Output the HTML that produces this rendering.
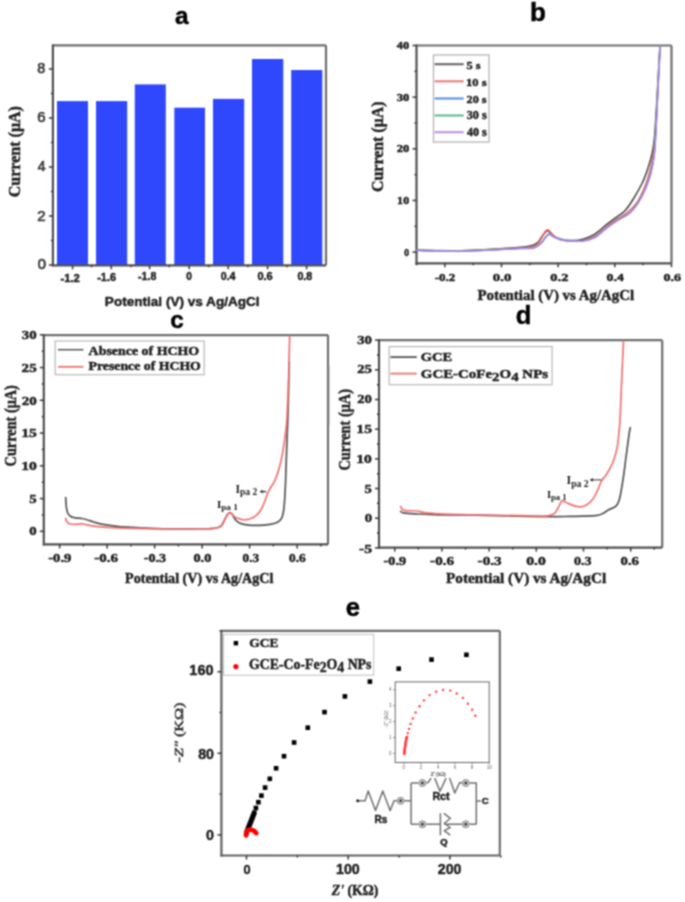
<!DOCTYPE html><html><head><meta charset="utf-8"><style>html,body{margin:0;padding:0;background:#fff;}svg{display:block;}</style></head><body>
<svg width="685" height="902" viewBox="0 0 685 902">
<defs><filter id="bf" x="-5" y="-5" width="695" height="912" filterUnits="userSpaceOnUse" color-interpolation-filters="sRGB"><feConvolveMatrix order="3" kernelMatrix="1 2 1 2 4 2 1 2 1" divisor="16" edgeMode="duplicate"/></filter></defs>
<rect width="685" height="902" fill="#fff"/>
<g filter="url(#bf)">
<text class="tx" id="ta" x="181.69" y="24.19" font-family='"Liberation Sans", sans-serif' font-size="24.44" font-weight="bold" text-anchor="middle" fill="#000" stroke="#000" stroke-width="0.45" >a</text>
<rect x="57.0" y="101.1" width="31.0" height="163.9" fill="#3048fd"/>
<rect x="96.0" y="101.1" width="31.2" height="163.9" fill="#3048fd"/>
<rect x="134.8" y="84.4" width="31.0" height="180.6" fill="#3048fd"/>
<rect x="174.3" y="107.7" width="30.7" height="157.3" fill="#3048fd"/>
<rect x="213.0" y="98.9" width="31.2" height="166.1" fill="#3048fd"/>
<rect x="252.0" y="59.0" width="31.3" height="206.0" fill="#3048fd"/>
<rect x="291.2" y="70.0" width="31.1" height="195.0" fill="#3048fd"/>
<line x1="52.90" y1="45.30" x2="326.00" y2="45.30" stroke="#6e6e6e" stroke-width="2.2"/>
<line x1="326.00" y1="45.30" x2="326.00" y2="265.30" stroke="#6e6e6e" stroke-width="2.2"/>
<line x1="52.90" y1="44.30" x2="52.90" y2="266.30" stroke="#505050" stroke-width="2.2"/>
<line x1="51.90" y1="265.30" x2="326.00" y2="265.30" stroke="#505050" stroke-width="2.2"/>
<line x1="48.90" y1="265.00" x2="52.90" y2="265.00" stroke="#3a3a3a" stroke-width="1.5"/>
<line x1="50.90" y1="240.50" x2="52.90" y2="240.50" stroke="#3a3a3a" stroke-width="1.5"/>
<line x1="48.90" y1="216.00" x2="52.90" y2="216.00" stroke="#3a3a3a" stroke-width="1.5"/>
<line x1="50.90" y1="191.50" x2="52.90" y2="191.50" stroke="#3a3a3a" stroke-width="1.5"/>
<line x1="48.90" y1="167.00" x2="52.90" y2="167.00" stroke="#3a3a3a" stroke-width="1.5"/>
<line x1="50.90" y1="142.50" x2="52.90" y2="142.50" stroke="#3a3a3a" stroke-width="1.5"/>
<line x1="48.90" y1="118.00" x2="52.90" y2="118.00" stroke="#3a3a3a" stroke-width="1.5"/>
<line x1="50.90" y1="93.50" x2="52.90" y2="93.50" stroke="#3a3a3a" stroke-width="1.5"/>
<line x1="48.90" y1="69.00" x2="52.90" y2="69.00" stroke="#3a3a3a" stroke-width="1.5"/>
<line x1="72.60" y1="265.30" x2="72.60" y2="269.30" stroke="#3a3a3a" stroke-width="1.5"/>
<line x1="91.60" y1="265.30" x2="91.60" y2="267.30" stroke="#3a3a3a" stroke-width="1.5"/>
<line x1="111.30" y1="265.30" x2="111.30" y2="269.30" stroke="#3a3a3a" stroke-width="1.5"/>
<line x1="131.00" y1="265.30" x2="131.00" y2="267.30" stroke="#3a3a3a" stroke-width="1.5"/>
<line x1="149.60" y1="265.30" x2="149.60" y2="269.30" stroke="#3a3a3a" stroke-width="1.5"/>
<line x1="169.30" y1="265.30" x2="169.30" y2="267.30" stroke="#3a3a3a" stroke-width="1.5"/>
<line x1="189.20" y1="265.30" x2="189.20" y2="269.30" stroke="#3a3a3a" stroke-width="1.5"/>
<line x1="208.60" y1="265.30" x2="208.60" y2="267.30" stroke="#3a3a3a" stroke-width="1.5"/>
<line x1="228.20" y1="265.30" x2="228.20" y2="269.30" stroke="#3a3a3a" stroke-width="1.5"/>
<line x1="247.80" y1="265.30" x2="247.80" y2="267.30" stroke="#3a3a3a" stroke-width="1.5"/>
<line x1="267.60" y1="265.30" x2="267.60" y2="269.30" stroke="#3a3a3a" stroke-width="1.5"/>
<line x1="287.00" y1="265.30" x2="287.00" y2="267.30" stroke="#3a3a3a" stroke-width="1.5"/>
<line x1="306.60" y1="265.30" x2="306.60" y2="269.30" stroke="#3a3a3a" stroke-width="1.5"/>
<text class="tx" id="ay8" x="45.35" y="73.26" font-family='"Liberation Sans", sans-serif' font-size="14.08" font-weight="normal" text-anchor="end" fill="#3c3c3c" stroke="#3c3c3c" stroke-width="0.7" textLength="7.96" lengthAdjust="spacingAndGlyphs" >8</text>
<text class="tx" id="ay6" x="45.70" y="122.24" font-family='"Liberation Sans", sans-serif' font-size="14.08" font-weight="normal" text-anchor="end" fill="#3c3c3c" stroke="#3c3c3c" stroke-width="0.7" textLength="8.35" lengthAdjust="spacingAndGlyphs" >6</text>
<text class="tx" id="ay4" x="45.51" y="171.36" font-family='"Liberation Sans", sans-serif' font-size="14.21" font-weight="normal" text-anchor="end" fill="#3c3c3c" stroke="#3c3c3c" stroke-width="0.7" textLength="7.84" lengthAdjust="spacingAndGlyphs" >4</text>
<text class="tx" id="ay2" x="45.71" y="220.84" font-family='"Liberation Sans", sans-serif' font-size="14.73" font-weight="normal" text-anchor="end" fill="#3c3c3c" stroke="#3c3c3c" stroke-width="0.7" textLength="8.32" lengthAdjust="spacingAndGlyphs" >2</text>
<text class="tx" id="ay0" x="46.04" y="269.24" font-family='"Liberation Sans", sans-serif' font-size="14.08" font-weight="normal" text-anchor="end" fill="#3c3c3c" stroke="#3c3c3c" stroke-width="0.7" textLength="8.29" lengthAdjust="spacingAndGlyphs" >0</text>
<text class="tx" id="ax0" x="70.15" y="281.90" font-family='"Liberation Sans", sans-serif' font-size="11.27" font-weight="bold" text-anchor="middle" fill="#222" stroke="#222" stroke-width="0.45" >-1.2</text>
<text class="tx" id="ax1" x="106.61" y="281.32" font-family='"Liberation Sans", sans-serif' font-size="10.98" font-weight="bold" text-anchor="middle" fill="#222" stroke="#222" stroke-width="0.45" >-1.6</text>
<text class="tx" id="ax2" x="147.18" y="280.08" font-family='"Liberation Sans", sans-serif' font-size="10.63" font-weight="bold" text-anchor="middle" fill="#222" stroke="#222" stroke-width="0.45" >-1.8</text>
<text class="tx" id="ax3" x="188.99" y="279.91" font-family='"Liberation Sans", sans-serif' font-size="10.11" font-weight="bold" text-anchor="middle" fill="#222" stroke="#222" stroke-width="0.45" >0</text>
<text class="tx" id="ax4" x="228.03" y="279.87" font-family='"Liberation Sans", sans-serif' font-size="10.60" font-weight="bold" text-anchor="middle" fill="#222" stroke="#222" stroke-width="0.45" >0.4</text>
<text class="tx" id="ax5" x="265.09" y="280.04" font-family='"Liberation Sans", sans-serif' font-size="11.01" font-weight="bold" text-anchor="middle" fill="#222" stroke="#222" stroke-width="0.45" >0.6</text>
<text class="tx" id="ax6" x="304.81" y="279.86" font-family='"Liberation Sans", sans-serif' font-size="10.70" font-weight="bold" text-anchor="middle" fill="#222" stroke="#222" stroke-width="0.45" >0.8</text>
<text class="tx" id="ayt" x="0" y="0" transform="translate(20.20,151.69) rotate(-90)" font-family='"Liberation Serif", serif' font-size="17.50" font-weight="bold" text-anchor="middle" fill="#222" stroke="#222" stroke-width="0.45" textLength="91.16" lengthAdjust="spacingAndGlyphs">Current (μA)</text>
<text class="tx" id="axt" x="104.83" y="305.59" font-family='"Liberation Sans", sans-serif' font-size="13.39" font-weight="bold" text-anchor="start" fill="#222" stroke="#222" stroke-width="0.45" textLength="154.76" lengthAdjust="spacingAndGlyphs" >Potential (V) vs Ag/AgCl</text>
<text class="tx" id="tb" x="537.97" y="20.83" font-family='"Liberation Sans", sans-serif' font-size="26.04" font-weight="bold" text-anchor="middle" fill="#000" stroke="#000" stroke-width="0.45" >b</text>
<line x1="416.50" y1="45.50" x2="671.50" y2="45.50" stroke="#6e6e6e" stroke-width="2.2"/>
<line x1="671.50" y1="45.50" x2="671.50" y2="263.30" stroke="#6e6e6e" stroke-width="2.2"/>
<line x1="416.50" y1="44.50" x2="416.50" y2="264.30" stroke="#505050" stroke-width="2.2"/>
<line x1="415.50" y1="263.30" x2="671.50" y2="263.30" stroke="#505050" stroke-width="2.2"/>
<line x1="412.50" y1="252.10" x2="416.50" y2="252.10" stroke="#3a3a3a" stroke-width="1.5"/>
<line x1="414.50" y1="226.28" x2="416.50" y2="226.28" stroke="#3a3a3a" stroke-width="1.5"/>
<line x1="412.50" y1="200.45" x2="416.50" y2="200.45" stroke="#3a3a3a" stroke-width="1.5"/>
<line x1="414.50" y1="174.62" x2="416.50" y2="174.62" stroke="#3a3a3a" stroke-width="1.5"/>
<line x1="412.50" y1="148.80" x2="416.50" y2="148.80" stroke="#3a3a3a" stroke-width="1.5"/>
<line x1="414.50" y1="122.97" x2="416.50" y2="122.97" stroke="#3a3a3a" stroke-width="1.5"/>
<line x1="412.50" y1="97.15" x2="416.50" y2="97.15" stroke="#3a3a3a" stroke-width="1.5"/>
<line x1="414.50" y1="71.32" x2="416.50" y2="71.32" stroke="#3a3a3a" stroke-width="1.5"/>
<line x1="412.50" y1="45.50" x2="416.50" y2="45.50" stroke="#3a3a3a" stroke-width="1.5"/>
<line x1="416.51" y1="263.30" x2="416.51" y2="265.30" stroke="#3a3a3a" stroke-width="1.5"/>
<line x1="444.84" y1="263.30" x2="444.84" y2="267.30" stroke="#3a3a3a" stroke-width="1.5"/>
<line x1="473.17" y1="263.30" x2="473.17" y2="265.30" stroke="#3a3a3a" stroke-width="1.5"/>
<line x1="501.50" y1="263.30" x2="501.50" y2="267.30" stroke="#3a3a3a" stroke-width="1.5"/>
<line x1="529.83" y1="263.30" x2="529.83" y2="265.30" stroke="#3a3a3a" stroke-width="1.5"/>
<line x1="558.16" y1="263.30" x2="558.16" y2="267.30" stroke="#3a3a3a" stroke-width="1.5"/>
<line x1="586.49" y1="263.30" x2="586.49" y2="265.30" stroke="#3a3a3a" stroke-width="1.5"/>
<line x1="614.82" y1="263.30" x2="614.82" y2="267.30" stroke="#3a3a3a" stroke-width="1.5"/>
<line x1="643.15" y1="263.30" x2="643.15" y2="265.30" stroke="#3a3a3a" stroke-width="1.5"/>
<line x1="671.48" y1="263.30" x2="671.48" y2="267.30" stroke="#3a3a3a" stroke-width="1.5"/>
<text class="tx" id="by40" x="409.19" y="49.08" font-family='"Liberation Serif", serif' font-size="11.05" font-weight="bold" text-anchor="end" fill="#222" stroke="#222" stroke-width="0.45" textLength="12.42" lengthAdjust="spacingAndGlyphs" >40</text>
<text class="tx" id="by30" x="409.24" y="101.10" font-family='"Liberation Serif", serif' font-size="9.97" font-weight="bold" text-anchor="end" fill="#222" stroke="#222" stroke-width="0.45" textLength="12.51" lengthAdjust="spacingAndGlyphs" >30</text>
<text class="tx" id="by20" x="409.24" y="151.96" font-family='"Liberation Serif", serif' font-size="10.14" font-weight="bold" text-anchor="end" fill="#222" stroke="#222" stroke-width="0.45" textLength="12.51" lengthAdjust="spacingAndGlyphs" >20</text>
<text class="tx" id="by10" x="409.14" y="203.74" font-family='"Liberation Serif", serif' font-size="9.94" font-weight="bold" text-anchor="end" fill="#222" stroke="#222" stroke-width="0.45" textLength="12.01" lengthAdjust="spacingAndGlyphs" >10</text>
<text class="tx" id="by0" x="409.10" y="255.61" font-family='"Liberation Serif", serif' font-size="10.14" font-weight="bold" text-anchor="end" fill="#222" stroke="#222" stroke-width="0.45" textLength="4.78" lengthAdjust="spacingAndGlyphs" >0</text>
<text class="tx" id="bx0" x="444.96" y="281.10" font-family='"Liberation Serif", serif' font-size="10.67" font-weight="bold" text-anchor="middle" fill="#222" stroke="#222" stroke-width="0.45" textLength="20.54" lengthAdjust="spacingAndGlyphs" >-0.2</text>
<text class="tx" id="bx1" x="502.04" y="281.10" font-family='"Liberation Serif", serif' font-size="10.67" font-weight="bold" text-anchor="middle" fill="#222" stroke="#222" stroke-width="0.45" textLength="18.54" lengthAdjust="spacingAndGlyphs" >0.0</text>
<text class="tx" id="bx2" x="559.34" y="281.10" font-family='"Liberation Serif", serif' font-size="10.67" font-weight="bold" text-anchor="middle" fill="#222" stroke="#222" stroke-width="0.45" textLength="18.05" lengthAdjust="spacingAndGlyphs" >0.2</text>
<text class="tx" id="bx3" x="615.22" y="281.10" font-family='"Liberation Serif", serif' font-size="10.67" font-weight="bold" text-anchor="middle" fill="#222" stroke="#222" stroke-width="0.45" textLength="17.27" lengthAdjust="spacingAndGlyphs" >0.4</text>
<text class="tx" id="bx4" x="672.23" y="281.10" font-family='"Liberation Serif", serif' font-size="10.67" font-weight="bold" text-anchor="middle" fill="#222" stroke="#222" stroke-width="0.45" textLength="17.59" lengthAdjust="spacingAndGlyphs" >0.6</text>
<text class="tx" id="byt" x="0" y="0" transform="translate(383.40,146.77) rotate(-90)" font-family='"Liberation Serif", serif' font-size="17.00" font-weight="bold" text-anchor="middle" fill="#222" stroke="#222" stroke-width="0.45" textLength="90.48" lengthAdjust="spacingAndGlyphs">Current (μA)</text>
<text class="tx" id="bxt" x="477.51" y="299.86" font-family='"Liberation Serif", serif' font-size="14.49" font-weight="bold" text-anchor="start" fill="#222" stroke="#222" stroke-width="0.45" textLength="156.64" lengthAdjust="spacingAndGlyphs" >Potential (V) vs Ag/AgCl</text>
<path d="M417.0,250.2 C420.8,250.3 431.2,250.7 440.0,250.8 C448.8,250.9 460.0,250.9 470.0,250.6 C480.0,250.3 491.7,249.3 500.0,248.8 C508.3,248.3 514.7,247.9 520.0,247.4 C525.3,246.9 529.0,246.4 532.0,245.6 C535.0,244.8 536.1,244.2 538.0,242.3 C539.9,240.5 541.8,236.4 543.4,234.5 C545.0,232.6 546.3,231.1 547.5,230.8 C548.7,230.5 549.2,231.8 550.5,232.8 C551.8,233.8 553.1,235.7 555.0,236.9 C556.9,238.1 559.3,239.4 562.0,240.0 C564.7,240.6 567.9,240.7 571.4,240.6 C574.9,240.5 579.1,240.3 583.0,239.2 C586.9,238.1 590.9,236.5 594.8,234.1 C598.7,231.7 602.9,227.4 606.4,224.7 C609.9,222.0 612.7,220.0 615.8,217.7 C618.9,215.4 622.1,213.7 625.0,210.7 C627.9,207.7 630.2,204.0 633.0,199.5 C635.8,195.0 639.5,188.6 642.0,183.5 C644.5,178.4 646.2,173.5 647.8,168.7 C649.4,163.9 650.7,159.9 651.8,154.7 C652.9,149.5 653.6,147.8 654.5,137.6 C655.4,127.4 656.4,108.5 657.3,93.3 C658.2,78.1 659.5,54.3 660.0,46.5" fill="none" stroke="#4a4a4a" stroke-width="1.6" stroke-linejoin="round" stroke-linecap="round" opacity="1"/>
<path d="M417.0,250.2 C420.8,250.3 431.2,250.7 440.0,250.8 C448.8,250.9 460.0,250.9 470.0,250.6 C480.0,250.3 491.7,249.6 500.0,249.2 C508.3,248.8 514.7,248.4 520.0,248.0 C525.3,247.6 529.0,247.2 532.0,246.5 C535.0,245.8 536.2,245.4 538.0,243.5 C539.8,241.6 541.6,237.2 543.0,235.0 C544.4,232.8 545.5,230.9 546.5,230.2 C547.5,229.4 548.1,229.9 549.0,230.5 C549.9,231.1 550.8,232.8 552.0,234.0 C553.2,235.2 554.2,236.4 556.0,237.5 C557.8,238.6 560.3,239.7 563.0,240.3 C565.7,240.9 568.7,241.0 572.0,241.0 C575.3,241.0 579.2,241.3 583.0,240.5 C586.8,239.7 590.9,238.4 594.8,236.2 C598.7,233.9 603.3,229.5 606.4,227.0 C609.5,224.5 610.3,223.3 613.4,221.2 C616.5,219.1 621.2,217.3 625.1,214.2 C629.0,211.1 633.4,207.5 636.8,202.6 C640.2,197.7 643.2,190.7 645.5,185.0 C647.8,179.3 649.1,174.5 650.5,168.7 C651.9,162.9 652.9,156.4 653.8,150.0 C654.7,143.6 655.2,139.5 655.8,130.0 C656.4,120.5 656.9,106.9 657.6,93.0 C658.3,79.1 659.6,54.2 660.0,46.5" fill="none" stroke="#ec6262" stroke-width="1.5" stroke-linejoin="round" stroke-linecap="round" opacity="1"/>
<path d="M417.0,250.0 C420.8,250.1 431.2,250.5 440.0,250.6 C448.8,250.7 460.0,250.7 470.0,250.5 C480.0,250.3 491.7,249.6 500.0,249.2 C508.3,248.8 514.3,248.5 520.0,248.2 C525.7,247.9 530.5,248.5 534.0,247.6 C537.5,246.7 539.0,244.8 541.0,243.0 C543.0,241.2 544.6,238.1 546.0,236.6 C547.4,235.1 548.2,234.0 549.2,233.8 C550.2,233.6 551.0,234.8 552.0,235.4 C553.0,236.0 552.5,236.4 555.0,237.2 C557.5,238.0 562.0,239.6 566.7,240.2 C571.4,240.8 578.3,241.2 583.0,240.7 C587.7,240.2 590.9,239.3 594.8,237.2 C598.7,235.1 602.5,230.8 606.4,227.9 C610.3,225.0 614.2,222.2 618.1,219.7 C622.0,217.2 626.3,215.8 629.8,212.7 C633.3,209.6 636.4,205.3 639.1,201.0 C641.8,196.7 644.2,191.7 646.1,187.0 C648.0,182.3 649.4,178.4 650.8,173.0 C652.2,167.6 653.4,161.5 654.3,154.3 C655.2,147.1 655.4,139.9 656.0,129.6 C656.6,119.3 657.1,106.5 657.8,92.6 C658.5,78.7 659.8,53.9 660.2,46.1" fill="none" stroke="#4a8ae0" stroke-width="1.5" stroke-linejoin="round" stroke-linecap="round" opacity="1"/>
<path d="M416.7,250.2 C420.5,250.3 430.9,250.7 439.7,250.8 C448.5,250.9 459.7,250.9 469.7,250.7 C479.7,250.5 491.4,249.8 499.7,249.4 C508.0,249.0 514.0,248.7 519.7,248.4 C525.4,248.1 530.2,248.7 533.7,247.8 C537.2,246.9 538.7,245.0 540.7,243.2 C542.7,241.4 544.3,238.3 545.7,236.8 C547.1,235.3 547.9,234.2 548.9,234.0 C549.9,233.8 550.7,235.0 551.7,235.6 C552.7,236.2 552.2,236.6 554.7,237.4 C557.2,238.2 561.7,239.8 566.4,240.4 C571.1,241.0 578.0,241.4 582.7,240.9 C587.4,240.4 590.6,239.5 594.5,237.4 C598.4,235.3 602.2,231.0 606.1,228.1 C610.0,225.2 613.9,222.4 617.8,219.9 C621.7,217.4 626.0,216.0 629.5,212.9 C633.0,209.8 636.1,205.5 638.8,201.2 C641.5,196.9 643.9,191.9 645.8,187.2 C647.8,182.5 649.1,178.7 650.5,173.2 C651.9,167.8 653.1,161.7 654.0,154.5 C654.9,147.3 655.1,140.1 655.7,129.8 C656.3,119.5 656.8,106.7 657.5,92.8 C658.2,78.9 659.5,54.0 659.9,46.3" fill="none" stroke="#4cb27c" stroke-width="1.5" stroke-linejoin="round" stroke-linecap="round" opacity="1"/>
<path d="M417.0,250.4 C420.8,250.5 431.2,250.9 440.0,251.0 C448.8,251.1 460.0,251.1 470.0,250.9 C480.0,250.7 491.7,250.0 500.0,249.6 C508.3,249.2 514.3,248.9 520.0,248.6 C525.7,248.3 530.5,248.9 534.0,248.0 C537.5,247.1 539.0,245.2 541.0,243.4 C543.0,241.6 544.6,238.5 546.0,237.0 C547.4,235.5 548.2,234.4 549.2,234.2 C550.2,234.0 551.0,235.2 552.0,235.8 C553.0,236.4 552.5,236.8 555.0,237.6 C557.5,238.4 562.0,240.0 566.7,240.6 C571.4,241.2 578.3,241.6 583.0,241.1 C587.7,240.6 590.9,239.7 594.8,237.6 C598.7,235.5 602.5,231.2 606.4,228.3 C610.3,225.4 614.2,222.6 618.1,220.1 C622.0,217.6 626.3,216.2 629.8,213.1 C633.3,210.0 636.4,205.7 639.1,201.4 C641.8,197.1 644.2,192.1 646.1,187.4 C648.0,182.7 649.4,178.9 650.8,173.4 C652.2,167.9 653.4,161.9 654.3,154.7 C655.2,147.5 655.4,140.3 656.0,130.0 C656.6,119.7 657.1,106.9 657.8,93.0 C658.5,79.1 659.8,54.2 660.2,46.5" fill="none" stroke="#b681e8" stroke-width="1.5" stroke-linejoin="round" stroke-linecap="round" opacity="1"/>
<rect x="433.5" y="55" width="55.5" height="87" fill="#fff" stroke="#b4b4b4" stroke-width="1.3"/>
<line x1="434.70" y1="64.20" x2="463.70" y2="64.20" stroke="#666" stroke-width="2.1"/>
<text class="tx" id="bl0" x="466.59" y="68.91" font-family='"Liberation Serif", serif' font-size="10.82" font-weight="bold" text-anchor="start" fill="#222" stroke="#222" stroke-width="0.45" textLength="14.10" lengthAdjust="spacingAndGlyphs" >5 s</text>
<line x1="434.70" y1="81.30" x2="463.70" y2="81.30" stroke="#ec7a7a" stroke-width="2.1"/>
<text class="tx" id="bl1" x="466.10" y="85.60" font-family='"Liberation Serif", serif' font-size="10.93" font-weight="bold" text-anchor="start" fill="#222" stroke="#222" stroke-width="0.45" textLength="20.49" lengthAdjust="spacingAndGlyphs" >10 s</text>
<line x1="434.70" y1="98.50" x2="463.70" y2="98.50" stroke="#5a90e2" stroke-width="2.1"/>
<text class="tx" id="bl2" x="466.59" y="102.51" font-family='"Liberation Serif", serif' font-size="10.88" font-weight="bold" text-anchor="start" fill="#222" stroke="#222" stroke-width="0.45" textLength="19.99" lengthAdjust="spacingAndGlyphs" >20 s</text>
<line x1="434.70" y1="115.50" x2="463.70" y2="115.50" stroke="#5cbc88" stroke-width="2.1"/>
<text class="tx" id="bl3" x="466.67" y="119.35" font-family='"Liberation Serif", serif' font-size="11.68" font-weight="bold" text-anchor="start" fill="#222" stroke="#222" stroke-width="0.45" textLength="19.99" lengthAdjust="spacingAndGlyphs" >30 s</text>
<line x1="434.70" y1="132.20" x2="463.70" y2="132.20" stroke="#c08ee8" stroke-width="2.1"/>
<text class="tx" id="bl4" x="467.00" y="136.37" font-family='"Liberation Serif", serif' font-size="11.50" font-weight="bold" text-anchor="start" fill="#222" stroke="#222" stroke-width="0.45" textLength="19.68" lengthAdjust="spacingAndGlyphs" >40 s</text>
<text class="tx" id="tc" x="177.00" y="327.60" font-family='"Liberation Sans", sans-serif' font-size="24.38" font-weight="bold" text-anchor="middle" fill="#000" stroke="#000" stroke-width="0.45" >c</text>
<line x1="43.80" y1="335.10" x2="328.00" y2="335.10" stroke="#6e6e6e" stroke-width="2.2"/>
<line x1="328.00" y1="335.10" x2="328.00" y2="544.40" stroke="#6e6e6e" stroke-width="2.2"/>
<line x1="43.80" y1="334.10" x2="43.80" y2="545.40" stroke="#505050" stroke-width="2.2"/>
<line x1="42.80" y1="544.40" x2="328.00" y2="544.40" stroke="#505050" stroke-width="2.2"/>
<line x1="39.80" y1="531.30" x2="43.80" y2="531.30" stroke="#3a3a3a" stroke-width="1.5"/>
<line x1="41.80" y1="514.92" x2="43.80" y2="514.92" stroke="#3a3a3a" stroke-width="1.5"/>
<line x1="39.80" y1="498.55" x2="43.80" y2="498.55" stroke="#3a3a3a" stroke-width="1.5"/>
<line x1="41.80" y1="482.17" x2="43.80" y2="482.17" stroke="#3a3a3a" stroke-width="1.5"/>
<line x1="39.80" y1="465.80" x2="43.80" y2="465.80" stroke="#3a3a3a" stroke-width="1.5"/>
<line x1="41.80" y1="449.42" x2="43.80" y2="449.42" stroke="#3a3a3a" stroke-width="1.5"/>
<line x1="39.80" y1="433.05" x2="43.80" y2="433.05" stroke="#3a3a3a" stroke-width="1.5"/>
<line x1="41.80" y1="416.67" x2="43.80" y2="416.67" stroke="#3a3a3a" stroke-width="1.5"/>
<line x1="39.80" y1="400.30" x2="43.80" y2="400.30" stroke="#3a3a3a" stroke-width="1.5"/>
<line x1="41.80" y1="383.92" x2="43.80" y2="383.92" stroke="#3a3a3a" stroke-width="1.5"/>
<line x1="39.80" y1="367.55" x2="43.80" y2="367.55" stroke="#3a3a3a" stroke-width="1.5"/>
<line x1="41.80" y1="351.17" x2="43.80" y2="351.17" stroke="#3a3a3a" stroke-width="1.5"/>
<line x1="39.80" y1="334.80" x2="43.80" y2="334.80" stroke="#3a3a3a" stroke-width="1.5"/>
<line x1="59.63" y1="544.40" x2="59.63" y2="548.40" stroke="#3a3a3a" stroke-width="1.5"/>
<line x1="83.37" y1="544.40" x2="83.37" y2="546.40" stroke="#3a3a3a" stroke-width="1.5"/>
<line x1="107.12" y1="544.40" x2="107.12" y2="548.40" stroke="#3a3a3a" stroke-width="1.5"/>
<line x1="130.86" y1="544.40" x2="130.86" y2="546.40" stroke="#3a3a3a" stroke-width="1.5"/>
<line x1="154.61" y1="544.40" x2="154.61" y2="548.40" stroke="#3a3a3a" stroke-width="1.5"/>
<line x1="178.35" y1="544.40" x2="178.35" y2="546.40" stroke="#3a3a3a" stroke-width="1.5"/>
<line x1="202.10" y1="544.40" x2="202.10" y2="548.40" stroke="#3a3a3a" stroke-width="1.5"/>
<line x1="225.84" y1="544.40" x2="225.84" y2="546.40" stroke="#3a3a3a" stroke-width="1.5"/>
<line x1="249.59" y1="544.40" x2="249.59" y2="548.40" stroke="#3a3a3a" stroke-width="1.5"/>
<line x1="273.34" y1="544.40" x2="273.34" y2="546.40" stroke="#3a3a3a" stroke-width="1.5"/>
<line x1="297.08" y1="544.40" x2="297.08" y2="548.40" stroke="#3a3a3a" stroke-width="1.5"/>
<line x1="320.82" y1="544.40" x2="320.82" y2="546.40" stroke="#3a3a3a" stroke-width="1.5"/>
<text class="tx" id="cy30" x="36.79" y="339.04" font-family='"Liberation Serif", serif' font-size="11.87" font-weight="bold" text-anchor="end" fill="#222" stroke="#222" stroke-width="0.45" textLength="14.90" lengthAdjust="spacingAndGlyphs" >30</text>
<text class="tx" id="cy25" x="36.70" y="371.81" font-family='"Liberation Serif", serif' font-size="12.07" font-weight="bold" text-anchor="end" fill="#222" stroke="#222" stroke-width="0.45" textLength="15.08" lengthAdjust="spacingAndGlyphs" >25</text>
<text class="tx" id="cy20" x="36.90" y="404.69" font-family='"Liberation Serif", serif' font-size="11.87" font-weight="bold" text-anchor="end" fill="#222" stroke="#222" stroke-width="0.45" textLength="15.08" lengthAdjust="spacingAndGlyphs" >20</text>
<text class="tx" id="cy15" x="36.81" y="437.19" font-family='"Liberation Serif", serif' font-size="12.07" font-weight="bold" text-anchor="end" fill="#222" stroke="#222" stroke-width="0.45" textLength="15.62" lengthAdjust="spacingAndGlyphs" >15</text>
<text class="tx" id="cy10" x="36.89" y="470.04" font-family='"Liberation Serif", serif' font-size="11.87" font-weight="bold" text-anchor="end" fill="#222" stroke="#222" stroke-width="0.45" textLength="15.72" lengthAdjust="spacingAndGlyphs" >10</text>
<text class="tx" id="cy5" x="36.76" y="502.75" font-family='"Liberation Serif", serif' font-size="12.06" font-weight="bold" text-anchor="end" fill="#222" stroke="#222" stroke-width="0.45" textLength="7.41" lengthAdjust="spacingAndGlyphs" >5</text>
<text class="tx" id="cy0" x="36.76" y="535.04" font-family='"Liberation Serif", serif' font-size="11.87" font-weight="bold" text-anchor="end" fill="#222" stroke="#222" stroke-width="0.45" textLength="7.41" lengthAdjust="spacingAndGlyphs" >0</text>
<text class="tx" id="cx0" x="59.80" y="562.04" font-family='"Liberation Serif", serif' font-size="11.52" font-weight="bold" text-anchor="middle" fill="#222" stroke="#222" stroke-width="0.45" textLength="23.08" lengthAdjust="spacingAndGlyphs" >-0.9</text>
<text class="tx" id="cx1" x="106.20" y="562.04" font-family='"Liberation Serif", serif' font-size="11.52" font-weight="bold" text-anchor="middle" fill="#222" stroke="#222" stroke-width="0.45" textLength="23.63" lengthAdjust="spacingAndGlyphs" >-0.6</text>
<text class="tx" id="cx2" x="154.97" y="562.04" font-family='"Liberation Serif", serif' font-size="11.52" font-weight="bold" text-anchor="middle" fill="#222" stroke="#222" stroke-width="0.45" textLength="22.28" lengthAdjust="spacingAndGlyphs" >-0.3</text>
<text class="tx" id="cx3" x="202.39" y="562.04" font-family='"Liberation Serif", serif' font-size="11.52" font-weight="bold" text-anchor="middle" fill="#222" stroke="#222" stroke-width="0.45" textLength="17.88" lengthAdjust="spacingAndGlyphs" >0.0</text>
<text class="tx" id="cx4" x="250.88" y="562.04" font-family='"Liberation Serif", serif' font-size="11.52" font-weight="bold" text-anchor="middle" fill="#222" stroke="#222" stroke-width="0.45" textLength="16.54" lengthAdjust="spacingAndGlyphs" >0.3</text>
<text class="tx" id="cx5" x="297.32" y="562.04" font-family='"Liberation Serif", serif' font-size="11.52" font-weight="bold" text-anchor="middle" fill="#222" stroke="#222" stroke-width="0.45" textLength="16.66" lengthAdjust="spacingAndGlyphs" >0.6</text>
<text class="tx" id="cyt" x="0" y="0" transform="translate(15.60,425.78) rotate(-90)" font-family='"Liberation Serif", serif' font-size="17.00" font-weight="bold" text-anchor="middle" fill="#222" stroke="#222" stroke-width="0.45" textLength="81.32" lengthAdjust="spacingAndGlyphs">Current (μA)</text>
<text class="tx" id="cxt" x="125.09" y="582.70" font-family='"Liberation Serif", serif' font-size="14.43" font-weight="bold" text-anchor="start" fill="#222" stroke="#222" stroke-width="0.45" textLength="148.28" lengthAdjust="spacingAndGlyphs" >Potential (V) vs Ag/AgCl</text>
<path d="M65.7,497.5 C65.8,498.9 65.9,503.2 66.2,505.7 C66.5,508.2 66.9,511.0 67.6,512.7 C68.3,514.5 69.2,515.4 70.4,516.2 C71.6,517.1 73.1,517.4 75.0,517.8 C76.9,518.2 80.0,518.2 82.0,518.5 C84.0,518.8 84.8,519.1 86.7,519.7 C88.7,520.3 91.0,521.2 93.7,522.0 C96.4,522.8 99.1,523.7 103.0,524.4 C106.9,525.1 111.9,525.8 117.0,526.3 C122.1,526.8 126.8,527.0 133.4,527.4 C140.0,527.8 149.0,528.3 156.8,528.6 C164.6,528.9 173.0,528.9 180.2,529.0 C187.4,529.1 195.2,529.2 200.0,529.2 C204.8,529.2 205.9,529.0 208.8,528.8 C211.7,528.5 215.3,528.3 217.5,527.7 C219.7,527.1 220.7,526.5 221.9,525.1 C223.1,523.7 223.8,521.1 224.8,519.3 C225.8,517.5 226.8,515.3 227.7,514.2 C228.5,513.1 229.2,512.7 229.9,512.7 C230.6,512.7 231.2,513.1 232.1,514.2 C232.9,515.3 233.8,517.8 235.0,519.3 C236.2,520.8 237.5,522.0 239.4,522.9 C241.3,523.8 243.5,524.4 246.7,524.8 C249.9,525.2 254.5,525.5 258.4,525.4 C262.3,525.3 266.8,524.9 270.0,524.4 C273.2,523.9 275.4,523.3 277.4,522.2 C279.4,521.1 280.7,520.2 281.8,517.8 C282.9,515.4 283.4,513.0 284.0,507.6 C284.6,502.2 285.0,494.2 285.4,485.7 C285.8,477.2 286.1,465.0 286.4,456.5 C286.7,448.0 287.0,440.7 287.2,434.6 C287.4,428.5 287.6,427.4 287.8,420.0 C288.0,412.6 288.4,399.7 288.6,390.0 C288.8,380.3 289.1,366.7 289.2,362.0" fill="none" stroke="#555" stroke-width="1.7" stroke-linejoin="round" stroke-linecap="round" opacity="1"/>
<path d="M65.7,518.5 C65.9,519.0 66.3,520.7 66.9,521.6 C67.5,522.5 67.9,523.2 69.2,523.7 C70.5,524.2 72.9,524.4 75.0,524.4 C77.1,524.4 80.0,523.8 82.0,523.9 C84.0,524.0 84.0,524.3 86.7,524.8 C89.4,525.3 93.4,526.2 98.4,526.7 C103.5,527.2 109.2,527.6 117.0,527.9 C124.8,528.2 134.6,528.4 145.1,528.6 C155.6,528.8 171.0,528.9 180.2,529.0 C189.3,529.1 195.2,529.2 200.0,529.2 C204.8,529.2 205.9,529.0 208.8,528.8 C211.7,528.5 215.3,528.3 217.5,527.7 C219.7,527.1 220.7,526.5 221.9,525.1 C223.1,523.7 223.8,521.1 224.8,519.3 C225.8,517.5 226.8,515.3 227.7,514.2 C228.5,513.1 229.2,512.7 229.9,512.7 C230.6,512.7 231.2,513.5 232.1,514.2 C232.9,514.9 233.5,516.2 235.0,517.1 C236.5,518.0 239.0,518.9 240.9,519.3 C242.8,519.7 244.8,519.9 246.7,519.6 C248.6,519.4 250.7,518.8 252.6,517.8 C254.5,516.8 256.7,515.3 258.4,513.4 C260.1,511.4 261.3,509.2 262.8,506.1 C264.3,503.0 266.0,497.4 267.2,494.5 C268.4,491.6 268.8,490.8 270.0,488.6 C271.2,486.4 273.0,484.5 274.5,481.3 C276.0,478.1 277.5,474.2 278.8,469.6 C280.1,465.0 281.5,458.7 282.5,453.6 C283.5,448.5 284.1,443.6 284.7,439.0 C285.3,434.4 286.0,429.8 286.4,425.8 C286.8,421.8 286.8,421.0 287.1,415.0 C287.4,409.0 287.9,398.8 288.2,390.0 C288.5,381.2 288.8,371.0 289.0,362.0 C289.2,353.0 289.6,340.3 289.7,336.0" fill="none" stroke="#f07070" stroke-width="1.7" stroke-linejoin="round" stroke-linecap="round" opacity="1"/>
<rect x="55.2" y="341" width="149" height="33.7" fill="none" stroke="#b8b8b8" stroke-width="1.2"/>
<line x1="57.90" y1="349.70" x2="83.40" y2="349.70" stroke="#555" stroke-width="1.5"/>
<line x1="57.90" y1="366.80" x2="83.40" y2="366.80" stroke="#f07070" stroke-width="1.8"/>
<text class="tx" id="cl0" x="88.63" y="354.58" font-family='"Liberation Serif", serif' font-size="11.76" font-weight="bold" text-anchor="start" fill="#222" stroke="#222" stroke-width="0.45" textLength="110.54" lengthAdjust="spacingAndGlyphs" >Absence of HCHO</text>
<text class="tx" id="cl1" x="88.57" y="370.32" font-family='"Liberation Serif", serif' font-size="12.05" font-weight="bold" text-anchor="start" fill="#222" stroke="#222" stroke-width="0.45" textLength="112.27" lengthAdjust="spacingAndGlyphs" >Presence of HCHO</text>
<text class="tx" id="ci1" x="216.90" y="507.74" font-family='"Liberation Serif", serif' font-weight="bold" fill="#222" font-size="11.22">I<tspan font-size="9.18" dy="2.14">pa 1</tspan></text>
<text class="tx" id="ci2" x="235.53" y="492.86" font-family='"Liberation Serif", serif' font-weight="bold" fill="#222" font-size="11.60">I<tspan font-size="9.49" dy="2.22">pa 2</tspan></text>
<line x1="261.00" y1="491.60" x2="266.20" y2="491.60" stroke="#333" stroke-width="1.3"/>
<path d="M259.6,491.6 L262.6,489.8 L262.6,493.4 Z" fill="#333"/>
<line x1="329.50" y1="366.00" x2="329.50" y2="425.00" stroke="#d4d4d4" stroke-width="1.2"/>
<text class="tx" id="td" x="523.69" y="324.01" font-family='"Liberation Sans", sans-serif' font-size="25.67" font-weight="bold" text-anchor="middle" fill="#000" stroke="#000" stroke-width="0.45" >d</text>
<line x1="379.00" y1="340.20" x2="662.20" y2="340.20" stroke="#6e6e6e" stroke-width="2.2"/>
<line x1="662.20" y1="340.20" x2="662.20" y2="547.60" stroke="#6e6e6e" stroke-width="2.2"/>
<line x1="379.00" y1="339.20" x2="379.00" y2="548.60" stroke="#505050" stroke-width="2.2"/>
<line x1="378.00" y1="547.60" x2="662.20" y2="547.60" stroke="#505050" stroke-width="2.2"/>
<line x1="375.00" y1="547.88" x2="379.00" y2="547.88" stroke="#3a3a3a" stroke-width="1.5"/>
<line x1="377.00" y1="533.04" x2="379.00" y2="533.04" stroke="#3a3a3a" stroke-width="1.5"/>
<line x1="375.00" y1="518.20" x2="379.00" y2="518.20" stroke="#3a3a3a" stroke-width="1.5"/>
<line x1="377.00" y1="503.36" x2="379.00" y2="503.36" stroke="#3a3a3a" stroke-width="1.5"/>
<line x1="375.00" y1="488.53" x2="379.00" y2="488.53" stroke="#3a3a3a" stroke-width="1.5"/>
<line x1="377.00" y1="473.69" x2="379.00" y2="473.69" stroke="#3a3a3a" stroke-width="1.5"/>
<line x1="375.00" y1="458.85" x2="379.00" y2="458.85" stroke="#3a3a3a" stroke-width="1.5"/>
<line x1="377.00" y1="444.01" x2="379.00" y2="444.01" stroke="#3a3a3a" stroke-width="1.5"/>
<line x1="375.00" y1="429.18" x2="379.00" y2="429.18" stroke="#3a3a3a" stroke-width="1.5"/>
<line x1="377.00" y1="414.34" x2="379.00" y2="414.34" stroke="#3a3a3a" stroke-width="1.5"/>
<line x1="375.00" y1="399.50" x2="379.00" y2="399.50" stroke="#3a3a3a" stroke-width="1.5"/>
<line x1="377.00" y1="384.66" x2="379.00" y2="384.66" stroke="#3a3a3a" stroke-width="1.5"/>
<line x1="375.00" y1="369.83" x2="379.00" y2="369.83" stroke="#3a3a3a" stroke-width="1.5"/>
<line x1="377.00" y1="354.99" x2="379.00" y2="354.99" stroke="#3a3a3a" stroke-width="1.5"/>
<line x1="375.00" y1="340.15" x2="379.00" y2="340.15" stroke="#3a3a3a" stroke-width="1.5"/>
<line x1="394.73" y1="547.60" x2="394.73" y2="551.60" stroke="#3a3a3a" stroke-width="1.5"/>
<line x1="418.32" y1="547.60" x2="418.32" y2="549.60" stroke="#3a3a3a" stroke-width="1.5"/>
<line x1="441.92" y1="547.60" x2="441.92" y2="551.60" stroke="#3a3a3a" stroke-width="1.5"/>
<line x1="465.51" y1="547.60" x2="465.51" y2="549.60" stroke="#3a3a3a" stroke-width="1.5"/>
<line x1="489.11" y1="547.60" x2="489.11" y2="551.60" stroke="#3a3a3a" stroke-width="1.5"/>
<line x1="512.70" y1="547.60" x2="512.70" y2="549.60" stroke="#3a3a3a" stroke-width="1.5"/>
<line x1="536.30" y1="547.60" x2="536.30" y2="551.60" stroke="#3a3a3a" stroke-width="1.5"/>
<line x1="559.89" y1="547.60" x2="559.89" y2="549.60" stroke="#3a3a3a" stroke-width="1.5"/>
<line x1="583.49" y1="547.60" x2="583.49" y2="551.60" stroke="#3a3a3a" stroke-width="1.5"/>
<line x1="607.08" y1="547.60" x2="607.08" y2="549.60" stroke="#3a3a3a" stroke-width="1.5"/>
<line x1="630.68" y1="547.60" x2="630.68" y2="551.60" stroke="#3a3a3a" stroke-width="1.5"/>
<line x1="654.27" y1="547.60" x2="654.27" y2="549.60" stroke="#3a3a3a" stroke-width="1.5"/>
<text class="tx" id="dy30" x="371.96" y="344.04" font-family='"Liberation Serif", serif' font-size="11.87" font-weight="bold" text-anchor="end" fill="#222" stroke="#222" stroke-width="0.45" textLength="14.73" lengthAdjust="spacingAndGlyphs" >30</text>
<text class="tx" id="dy25" x="371.93" y="373.41" font-family='"Liberation Serif", serif' font-size="12.07" font-weight="bold" text-anchor="end" fill="#222" stroke="#222" stroke-width="0.45" textLength="14.72" lengthAdjust="spacingAndGlyphs" >25</text>
<text class="tx" id="dy20" x="371.95" y="402.86" font-family='"Liberation Serif", serif' font-size="11.87" font-weight="bold" text-anchor="end" fill="#222" stroke="#222" stroke-width="0.45" textLength="14.66" lengthAdjust="spacingAndGlyphs" >20</text>
<text class="tx" id="dy15" x="371.93" y="432.76" font-family='"Liberation Serif", serif' font-size="12.07" font-weight="bold" text-anchor="end" fill="#222" stroke="#222" stroke-width="0.45" textLength="15.57" lengthAdjust="spacingAndGlyphs" >15</text>
<text class="tx" id="dy10" x="371.90" y="462.86" font-family='"Liberation Serif", serif' font-size="11.87" font-weight="bold" text-anchor="end" fill="#222" stroke="#222" stroke-width="0.45" textLength="15.57" lengthAdjust="spacingAndGlyphs" >10</text>
<text class="tx" id="dy5" x="371.80" y="492.75" font-family='"Liberation Serif", serif' font-size="12.06" font-weight="bold" text-anchor="end" fill="#222" stroke="#222" stroke-width="0.45" textLength="7.30" lengthAdjust="spacingAndGlyphs" >5</text>
<text class="tx" id="dy0" x="371.99" y="521.51" font-family='"Liberation Serif", serif' font-size="11.87" font-weight="bold" text-anchor="end" fill="#222" stroke="#222" stroke-width="0.45" textLength="7.34" lengthAdjust="spacingAndGlyphs" >0</text>
<text class="tx" id="dym5" x="372.04" y="552.75" font-family='"Liberation Serif", serif' font-size="12.06" font-weight="bold" text-anchor="end" fill="#222" stroke="#222" stroke-width="0.45" textLength="13.05" lengthAdjust="spacingAndGlyphs" >-5</text>
<text class="tx" id="dx0" x="394.80" y="564.99" font-family='"Liberation Serif", serif' font-size="11.52" font-weight="bold" text-anchor="middle" fill="#222" stroke="#222" stroke-width="0.45" textLength="22.41" lengthAdjust="spacingAndGlyphs" >-0.9</text>
<text class="tx" id="dx1" x="442.04" y="564.99" font-family='"Liberation Serif", serif' font-size="11.52" font-weight="bold" text-anchor="middle" fill="#222" stroke="#222" stroke-width="0.45" textLength="23.81" lengthAdjust="spacingAndGlyphs" >-0.6</text>
<text class="tx" id="dx2" x="489.62" y="564.99" font-family='"Liberation Serif", serif' font-size="11.52" font-weight="bold" text-anchor="middle" fill="#222" stroke="#222" stroke-width="0.45" textLength="24.10" lengthAdjust="spacingAndGlyphs" >-0.3</text>
<text class="tx" id="dx3" x="536.09" y="564.99" font-family='"Liberation Serif", serif' font-size="11.52" font-weight="bold" text-anchor="middle" fill="#222" stroke="#222" stroke-width="0.45" textLength="19.61" lengthAdjust="spacingAndGlyphs" >0.0</text>
<text class="tx" id="dx4" x="582.77" y="564.99" font-family='"Liberation Serif", serif' font-size="11.52" font-weight="bold" text-anchor="middle" fill="#222" stroke="#222" stroke-width="0.45" textLength="17.58" lengthAdjust="spacingAndGlyphs" >0.3</text>
<text class="tx" id="dx5" x="629.77" y="564.99" font-family='"Liberation Serif", serif' font-size="11.52" font-weight="bold" text-anchor="middle" fill="#222" stroke="#222" stroke-width="0.45" textLength="18.33" lengthAdjust="spacingAndGlyphs" >0.6</text>
<text class="tx" id="dyt" x="0" y="0" transform="translate(349.60,429.79) rotate(-90)" font-family='"Liberation Serif", serif' font-size="17.00" font-weight="bold" text-anchor="middle" fill="#222" stroke="#222" stroke-width="0.45" textLength="81.49" lengthAdjust="spacingAndGlyphs">Current (μA)</text>
<text class="tx" id="dxt" x="445.99" y="582.73" font-family='"Liberation Serif", serif' font-size="14.43" font-weight="bold" text-anchor="start" fill="#222" stroke="#222" stroke-width="0.45" textLength="160.13" lengthAdjust="spacingAndGlyphs" >Potential (V) vs Ag/AgCl</text>
<path d="M400.6,511.5 C401.1,511.7 401.0,512.5 403.4,512.9 C405.8,513.3 409.2,513.5 415.0,513.8 C420.8,514.1 428.7,514.6 438.4,514.8 C448.1,515.0 456.5,514.9 473.4,515.2 C490.3,515.5 524.0,516.4 540.0,516.6 C556.0,516.8 560.0,516.6 569.2,516.4 C578.5,516.2 589.9,516.1 595.5,515.6 C601.1,515.1 600.6,514.4 602.8,513.4 C605.0,512.4 606.4,511.0 608.6,509.8 C610.8,508.6 614.2,507.9 616.0,506.1 C617.8,504.3 618.4,503.4 619.6,498.8 C620.8,494.2 622.1,485.4 623.2,478.4 C624.3,471.3 625.1,463.8 626.1,456.5 C627.1,449.2 628.3,439.4 629.0,434.6 C629.7,429.8 630.1,428.8 630.3,427.6" fill="none" stroke="#555" stroke-width="1.7" stroke-linejoin="round" stroke-linecap="round" opacity="1"/>
<path d="M400.6,506.4 C400.9,506.9 401.4,508.5 402.2,509.2 C403.0,509.9 403.2,510.3 405.7,510.6 C408.2,510.9 413.9,510.6 417.4,511.0 C420.9,511.4 422.0,512.4 426.7,512.9 C431.4,513.4 437.6,513.8 445.4,514.1 C453.2,514.4 460.9,514.5 473.4,514.8 C485.9,515.1 509.1,515.5 520.2,515.7 C531.3,515.9 535.2,516.1 540.0,516.1 C544.8,516.1 546.4,516.1 548.8,515.6 C551.2,515.1 553.0,514.7 554.6,513.4 C556.2,512.1 557.1,509.5 558.2,507.6 C559.3,505.7 560.5,503.0 561.2,501.8 C561.9,500.6 562.0,500.7 562.6,500.7 C563.2,500.7 563.7,501.3 564.8,501.8 C565.9,502.3 567.5,503.2 569.2,503.9 C570.9,504.6 573.0,505.6 575.0,506.1 C577.0,506.6 578.9,507.1 580.9,506.9 C582.9,506.7 584.8,505.9 586.7,504.7 C588.7,503.5 590.8,502.0 592.6,499.6 C594.4,497.2 596.2,493.2 597.7,490.1 C599.2,487.1 600.0,483.7 601.3,481.3 C602.6,478.9 604.2,477.7 605.7,475.5 C607.2,473.3 608.6,471.1 610.1,468.2 C611.6,465.3 613.3,461.6 614.5,458.0 C615.7,454.4 616.7,450.0 617.4,446.3 C618.1,442.6 618.2,440.4 618.6,436.0 C619.0,431.6 619.5,428.5 620.0,420.0 C620.5,411.5 620.9,398.2 621.5,385.0 C622.1,371.8 623.2,348.3 623.5,341.0" fill="none" stroke="#f07070" stroke-width="1.7" stroke-linejoin="round" stroke-linecap="round" opacity="1"/>
<rect x="389.2" y="346.6" width="162.9" height="38.1" fill="none" stroke="#b8b8b8" stroke-width="1.2"/>
<line x1="390.50" y1="357.10" x2="416.80" y2="357.10" stroke="#555" stroke-width="1.8"/>
<line x1="390.50" y1="373.60" x2="416.80" y2="373.60" stroke="#f07070" stroke-width="1.8"/>
<text class="tx" id="dl0" x="420.66" y="360.50" font-family='"Liberation Serif", serif' font-size="12.33" font-weight="bold" text-anchor="start" fill="#222" stroke="#222" stroke-width="0.45" textLength="31.53" lengthAdjust="spacingAndGlyphs" >GCE</text>
<text class="tx" id="dl1" x="420.79" y="377.80" font-family='"Liberation Serif", serif' font-size="13.17" font-weight="bold" text-anchor="start" fill="#222" stroke="#222" stroke-width="0.45" textLength="127.29" lengthAdjust="spacingAndGlyphs" >GCE-CoFe<tspan dy="3">2</tspan><tspan dy="-3">O</tspan><tspan dy="3">4</tspan><tspan dy="-3"> NPs</tspan></text>
<text class="tx" id="di1" x="546.89" y="497.70" font-family='"Liberation Serif", serif' font-weight="bold" fill="#222" font-size="10.62">I<tspan font-size="8.69" dy="2.03">pa 1</tspan></text>
<text class="tx" id="di2" x="566.57" y="484.25" font-family='"Liberation Serif", serif' font-weight="bold" fill="#222" font-size="11.81">I<tspan font-size="9.66" dy="2.25">pa 2</tspan></text>
<line x1="592.00" y1="479.90" x2="601.30" y2="479.90" stroke="#333" stroke-width="1"/>
<path d="M589.6,479.9 L593,478.1 L593,481.7 Z" fill="#333"/>
<text class="tx" id="te" x="352.86" y="616.18" font-family='"Liberation Sans", sans-serif' font-size="25.66" font-weight="bold" text-anchor="middle" fill="#000" stroke="#000" stroke-width="0.45" >e</text>
<line x1="221.40" y1="630.80" x2="499.80" y2="630.80" stroke="#6e6e6e" stroke-width="2.2"/>
<line x1="499.80" y1="630.80" x2="499.80" y2="855.50" stroke="#6e6e6e" stroke-width="2.2"/>
<line x1="221.40" y1="629.80" x2="221.40" y2="856.50" stroke="#606060" stroke-width="2.2"/>
<line x1="220.40" y1="855.50" x2="499.80" y2="855.50" stroke="#606060" stroke-width="2.2"/>
<line x1="217.50" y1="834.90" x2="221.50" y2="834.90" stroke="#3a3a3a" stroke-width="1.5"/>
<line x1="219.50" y1="794.10" x2="221.50" y2="794.10" stroke="#3a3a3a" stroke-width="1.5"/>
<line x1="217.50" y1="753.30" x2="221.50" y2="753.30" stroke="#3a3a3a" stroke-width="1.5"/>
<line x1="219.50" y1="712.50" x2="221.50" y2="712.50" stroke="#3a3a3a" stroke-width="1.5"/>
<line x1="217.50" y1="671.70" x2="221.50" y2="671.70" stroke="#3a3a3a" stroke-width="1.5"/>
<line x1="219.50" y1="630.90" x2="221.50" y2="630.90" stroke="#3a3a3a" stroke-width="1.5"/>
<line x1="246.50" y1="855.50" x2="246.50" y2="859.50" stroke="#3a3a3a" stroke-width="1.5"/>
<line x1="297.35" y1="855.50" x2="297.35" y2="857.50" stroke="#3a3a3a" stroke-width="1.5"/>
<line x1="348.20" y1="855.50" x2="348.20" y2="859.50" stroke="#3a3a3a" stroke-width="1.5"/>
<line x1="399.05" y1="855.50" x2="399.05" y2="857.50" stroke="#3a3a3a" stroke-width="1.5"/>
<line x1="449.90" y1="855.50" x2="449.90" y2="859.50" stroke="#3a3a3a" stroke-width="1.5"/>
<line x1="500.75" y1="855.50" x2="500.75" y2="857.50" stroke="#3a3a3a" stroke-width="1.5"/>
<text class="tx" id="ey160" x="213.52" y="675.40" font-family='"Liberation Sans", sans-serif' font-size="14.50" font-weight="bold" text-anchor="end" fill="#222" stroke="#222" stroke-width="0.45" >160</text>
<text class="tx" id="ey80" x="213.96" y="758.55" font-family='"Liberation Sans", sans-serif' font-size="14.18" font-weight="bold" text-anchor="end" fill="#222" stroke="#222" stroke-width="0.45" >80</text>
<text class="tx" id="ey0" x="213.90" y="840.25" font-family='"Liberation Sans", sans-serif' font-size="14.28" font-weight="bold" text-anchor="end" fill="#222" stroke="#222" stroke-width="0.45" >0</text>
<text class="tx" id="ex0" x="247.02" y="873.62" font-family='"Liberation Sans", sans-serif' font-size="12.73" font-weight="bold" text-anchor="middle" fill="#222" stroke="#222" stroke-width="0.45" >0</text>
<text class="tx" id="ex100" x="347.86" y="874.14" font-family='"Liberation Sans", sans-serif' font-size="14.22" font-weight="bold" text-anchor="middle" fill="#222" stroke="#222" stroke-width="0.45" >100</text>
<text class="tx" id="ex200" x="449.65" y="874.24" font-family='"Liberation Sans", sans-serif' font-size="14.20" font-weight="bold" text-anchor="middle" fill="#222" stroke="#222" stroke-width="0.45" >200</text>
<text class="tx" id="eyt" x="0" y="0" transform="translate(183.44,732.48) rotate(-90)" font-family='"Liberation Serif", serif' font-size="13.50" font-weight="normal" text-anchor="middle" fill="#2a2a2a" stroke="#2a2a2a" stroke-width="0.45" textLength="59.99" lengthAdjust="spacingAndGlyphs">-<tspan font-style="italic">Z"</tspan> (KΩ)</text>
<text class="tx" id="ext" x="331.77" y="894.65" font-family='"Liberation Serif", serif' font-size="13.80" font-weight="bold" text-anchor="start" fill="#222" stroke="#222" stroke-width="0.45" ><tspan font-style="italic">Z'</tspan> (KΩ)</text>
<rect x="464.1" y="652.5" width="4.6" height="4.6" fill="#000"/>
<rect x="429.2" y="657.3" width="4.6" height="4.6" fill="#000"/>
<rect x="396.4" y="666.4" width="4.6" height="4.6" fill="#000"/>
<rect x="367.6" y="679.3" width="4.6" height="4.6" fill="#000"/>
<rect x="342.6" y="694.1" width="4.6" height="4.6" fill="#000"/>
<rect x="322.2" y="709.8" width="4.6" height="4.6" fill="#000"/>
<rect x="305.5" y="725.4" width="4.6" height="4.6" fill="#000"/>
<rect x="291.8" y="740.2" width="4.6" height="4.6" fill="#000"/>
<rect x="281.7" y="753.9" width="4.6" height="4.6" fill="#000"/>
<rect x="273.8" y="766.0" width="4.6" height="4.6" fill="#000"/>
<rect x="267.5" y="776.5" width="4.6" height="4.6" fill="#000"/>
<rect x="262.8" y="785.3" width="4.6" height="4.6" fill="#000"/>
<rect x="259.1" y="793.3" width="4.6" height="4.6" fill="#000"/>
<rect x="256.1" y="799.9" width="4.6" height="4.6" fill="#000"/>
<rect x="253.6" y="805.7" width="4.6" height="4.6" fill="#000"/>
<rect x="252.0" y="810.4" width="4.6" height="4.6" fill="#000"/>
<rect x="251.3" y="812.3" width="4.6" height="4.6" fill="#000"/>
<rect x="250.5" y="814.2" width="4.6" height="4.6" fill="#000"/>
<rect x="249.8" y="816.1" width="4.6" height="4.6" fill="#000"/>
<rect x="249.1" y="818.0" width="4.6" height="4.6" fill="#000"/>
<rect x="248.3" y="819.9" width="4.6" height="4.6" fill="#000"/>
<rect x="247.6" y="821.7" width="4.6" height="4.6" fill="#000"/>
<rect x="246.8" y="823.6" width="4.6" height="4.6" fill="#000"/>
<rect x="246.1" y="825.5" width="4.6" height="4.6" fill="#000"/>
<rect x="245.4" y="827.4" width="4.6" height="4.6" fill="#000"/>
<rect x="244.6" y="829.3" width="4.6" height="4.6" fill="#000"/>
<rect x="243.9" y="831.2" width="4.6" height="4.6" fill="#000"/>
<path d="M246,835.5 C246,831 248,829.5 250.5,829.6 C253,829.8 255,831 256.2,833.2" fill="none" stroke="#f00" stroke-width="4.6" stroke-linecap="round"/>
<rect x="223.5" y="634.3" width="150.2" height="40.9" fill="#fff" stroke="#c0c0c0" stroke-width="1"/>
<rect x="233.7" y="641" width="4.4" height="4.4" fill="#000"/>
<circle cx="235.9" cy="666.6" r="2.6" fill="#f00"/>
<text class="tx" id="el0" x="249.21" y="647.05" font-family='"Liberation Serif", serif' font-size="13.04" font-weight="bold" text-anchor="start" fill="#222" stroke="#222" stroke-width="0.45" textLength="29.22" lengthAdjust="spacingAndGlyphs" >GCE</text>
<text class="tx" id="el1" x="249.09" y="669.30" font-family='"Liberation Serif", serif' font-size="13.88" font-weight="bold" text-anchor="start" fill="#222" stroke="#222" stroke-width="0.45" textLength="122.34" lengthAdjust="spacingAndGlyphs" >GCE-Co-Fe<tspan dy="3">2</tspan><tspan dy="-3">O</tspan><tspan dy="3">4</tspan><tspan dy="-3"> NPs</tspan></text>
<rect x="395.2" y="681.9" width="94" height="80.6" fill="#fff" stroke="#666" stroke-width="1"/>
<line x1="403.80" y1="762.50" x2="403.80" y2="764.50" stroke="#777" stroke-width="0.8"/>
<text x="403.8" y="769" font-family='"Liberation Sans", sans-serif' font-size="4.5" text-anchor="middle" fill="#666">0</text>
<line x1="420.88" y1="762.50" x2="420.88" y2="764.50" stroke="#777" stroke-width="0.8"/>
<text x="420.9" y="769" font-family='"Liberation Sans", sans-serif' font-size="4.5" text-anchor="middle" fill="#666">2</text>
<line x1="437.96" y1="762.50" x2="437.96" y2="764.50" stroke="#777" stroke-width="0.8"/>
<text x="438.0" y="769" font-family='"Liberation Sans", sans-serif' font-size="4.5" text-anchor="middle" fill="#666">4</text>
<line x1="455.04" y1="762.50" x2="455.04" y2="764.50" stroke="#777" stroke-width="0.8"/>
<text x="455.0" y="769" font-family='"Liberation Sans", sans-serif' font-size="4.5" text-anchor="middle" fill="#666">6</text>
<line x1="472.12" y1="762.50" x2="472.12" y2="764.50" stroke="#777" stroke-width="0.8"/>
<text x="472.1" y="769" font-family='"Liberation Sans", sans-serif' font-size="4.5" text-anchor="middle" fill="#666">8</text>
<line x1="489.20" y1="762.50" x2="489.20" y2="764.50" stroke="#777" stroke-width="0.8"/>
<text x="489.2" y="769" font-family='"Liberation Sans", sans-serif' font-size="4.5" text-anchor="middle" fill="#666">10</text>
<line x1="393.20" y1="753.40" x2="395.20" y2="753.40" stroke="#777" stroke-width="0.8"/>
<text x="391.5" y="755.0" font-family='"Liberation Sans", sans-serif' font-size="4.5" text-anchor="end" fill="#666">0</text>
<line x1="393.20" y1="737.50" x2="395.20" y2="737.50" stroke="#777" stroke-width="0.8"/>
<text x="391.5" y="739.1" font-family='"Liberation Sans", sans-serif' font-size="4.5" text-anchor="end" fill="#666">1</text>
<line x1="393.20" y1="721.60" x2="395.20" y2="721.60" stroke="#777" stroke-width="0.8"/>
<text x="391.5" y="723.2" font-family='"Liberation Sans", sans-serif' font-size="4.5" text-anchor="end" fill="#666">2</text>
<line x1="393.20" y1="705.70" x2="395.20" y2="705.70" stroke="#777" stroke-width="0.8"/>
<text x="391.5" y="707.3" font-family='"Liberation Sans", sans-serif' font-size="4.5" text-anchor="end" fill="#666">3</text>
<line x1="393.20" y1="689.80" x2="395.20" y2="689.80" stroke="#777" stroke-width="0.8"/>
<text x="391.5" y="691.4" font-family='"Liberation Sans", sans-serif' font-size="4.5" text-anchor="end" fill="#666">4</text>
<text x="438.2" y="775.6" font-family='"Liberation Sans", sans-serif' font-size="5" text-anchor="middle" fill="#555" stroke="#555" stroke-width="0.2">Z' (kΩ)</text>
<text x="0" y="0" transform="translate(387.5,719) rotate(-90)" font-family='"Liberation Sans", sans-serif' font-size="5" fill="#666" text-anchor="middle">-Z" (kΩ)</text>
<circle cx="404.2" cy="754.0" r="1.2" fill="#ff3b3b"/>
<circle cx="404.5" cy="751.0" r="1.2" fill="#ff3b3b"/>
<circle cx="404.9" cy="748.0" r="1.2" fill="#ff3b3b"/>
<circle cx="405.3" cy="745.2" r="1.2" fill="#ff3b3b"/>
<circle cx="405.8" cy="742.0" r="1.2" fill="#ff3b3b"/>
<circle cx="406.3" cy="739.1" r="1.2" fill="#ff3b3b"/>
<circle cx="407.0" cy="736.7" r="1.2" fill="#ff3b3b"/>
<circle cx="407.8" cy="733.1" r="1.2" fill="#ff3b3b"/>
<circle cx="409.0" cy="728.9" r="1.2" fill="#ff3b3b"/>
<circle cx="410.6" cy="723.9" r="1.2" fill="#ff3b3b"/>
<circle cx="412.8" cy="718.5" r="1.2" fill="#ff3b3b"/>
<circle cx="415.6" cy="712.5" r="1.2" fill="#ff3b3b"/>
<circle cx="419.5" cy="706.2" r="1.2" fill="#ff3b3b"/>
<circle cx="424.0" cy="700.4" r="1.2" fill="#ff3b3b"/>
<circle cx="429.6" cy="695.1" r="1.2" fill="#ff3b3b"/>
<circle cx="436.1" cy="691.7" r="1.2" fill="#ff3b3b"/>
<circle cx="443.0" cy="689.9" r="1.2" fill="#ff3b3b"/>
<circle cx="450.3" cy="690.6" r="1.2" fill="#ff3b3b"/>
<circle cx="456.8" cy="693.5" r="1.2" fill="#ff3b3b"/>
<circle cx="463.0" cy="697.9" r="1.2" fill="#ff3b3b"/>
<circle cx="467.9" cy="703.7" r="1.2" fill="#ff3b3b"/>
<circle cx="472.2" cy="709.7" r="1.2" fill="#ff3b3b"/>
<circle cx="475.4" cy="715.8" r="1.2" fill="#ff3b3b"/>
<circle cx="404.3" cy="753.2" r="1.2" fill="#ff3b3b"/>
<circle cx="404.4" cy="752.5" r="1.2" fill="#ff3b3b"/>
<circle cx="404.4" cy="751.8" r="1.2" fill="#ff3b3b"/>
<circle cx="404.6" cy="750.2" r="1.2" fill="#ff3b3b"/>
<circle cx="404.7" cy="749.5" r="1.2" fill="#ff3b3b"/>
<circle cx="404.8" cy="748.8" r="1.2" fill="#ff3b3b"/>
<circle cx="405.0" cy="747.3" r="1.2" fill="#ff3b3b"/>
<circle cx="405.1" cy="746.6" r="1.2" fill="#ff3b3b"/>
<circle cx="405.2" cy="745.9" r="1.2" fill="#ff3b3b"/>
<circle cx="405.4" cy="744.4" r="1.2" fill="#ff3b3b"/>
<circle cx="405.6" cy="743.6" r="1.2" fill="#ff3b3b"/>
<circle cx="405.7" cy="742.8" r="1.2" fill="#ff3b3b"/>
<circle cx="405.9" cy="741.3" r="1.2" fill="#ff3b3b"/>
<circle cx="406.1" cy="740.5" r="1.2" fill="#ff3b3b"/>
<circle cx="406.2" cy="739.8" r="1.2" fill="#ff3b3b"/>
<circle cx="406.5" cy="738.5" r="1.2" fill="#ff3b3b"/>
<circle cx="406.6" cy="737.9" r="1.2" fill="#ff3b3b"/>
<circle cx="406.8" cy="737.3" r="1.2" fill="#ff3b3b"/>
<g stroke="#707070" stroke-width="1.5" fill="none" stroke-linejoin="round">
<path d="M359,800.8 L365.1,800.8 L368.2,790.9 L375.5,810.6 L382.8,790.9 L390.1,810.6 L394,800.8 L397,800.8"/>
<path d="M404.1,800.8 L411.1,800.8 M411.1,783 L411.1,824.3 M411.1,783 L418.5,783 M426.3,783 L428.1,782.5 L431.2,778.1 M434.7,778.1 L440,791.3 L446.1,778.1 M449.6,778.1 L454.8,793 L459.7,782.5 L461.9,783 M469.7,783 L476.3,783 L476.3,824.3 M476.3,801 L481,801"/>
<path d="M411.1,824.3 L418.5,824.3 M426.3,824.3 L440.4,824.3 M440.4,813.3 L440.4,835.2 M443.9,813.3 L450.4,818.3 L444.2,823.5 L450.2,827.5 L444.3,830.6 L450.2,835.2 M444.3,824.3 L461.9,824.3 M469.7,824.3 L476.3,824.3"/>
</g>
<circle cx="400.6" cy="800.8" r="3.5" fill="#bdbdbd" stroke="#8a8a8a" stroke-width="0.9"/>
<circle cx="400.6" cy="800.8" r="1.2" fill="#222"/>
<circle cx="422.4" cy="783" r="3.5" fill="#bdbdbd" stroke="#8a8a8a" stroke-width="0.9"/>
<circle cx="422.4" cy="783" r="1.2" fill="#222"/>
<circle cx="465.8" cy="783" r="3.5" fill="#bdbdbd" stroke="#8a8a8a" stroke-width="0.9"/>
<circle cx="465.8" cy="783" r="1.2" fill="#222"/>
<circle cx="422.4" cy="824.3" r="3.5" fill="#bdbdbd" stroke="#8a8a8a" stroke-width="0.9"/>
<circle cx="422.4" cy="824.3" r="1.2" fill="#222"/>
<circle cx="465.8" cy="824.3" r="3.5" fill="#bdbdbd" stroke="#8a8a8a" stroke-width="0.9"/>
<circle cx="465.8" cy="824.3" r="1.2" fill="#222"/>
<circle cx="357.7" cy="800.8" r="1.5" fill="#222"/>
<text class="tx" id="eRct" x="441.01" y="800.15" font-family='"Liberation Sans", sans-serif' font-size="10.69" font-weight="bold" text-anchor="middle" fill="#222" stroke="#222" stroke-width="0.45" >Rct</text>
<text class="tx" id="eRs" x="380.91" y="822.95" font-family='"Liberation Sans", sans-serif' font-size="10.11" font-weight="bold" text-anchor="middle" fill="#222" stroke="#222" stroke-width="0.45" >Rs</text>
<text class="tx" id="eQ" x="443.90" y="845.24" font-family='"Liberation Sans", sans-serif' font-size="9.46" font-weight="bold" text-anchor="middle" fill="#222" stroke="#222" stroke-width="0.45" >Q</text>
<text class="tx" id="eC" x="485.27" y="804.45" font-family='"Liberation Sans", sans-serif' font-size="9.71" font-weight="bold" text-anchor="middle" fill="#222" stroke="#222" stroke-width="0.45" >C</text>
</g></svg></body></html>
